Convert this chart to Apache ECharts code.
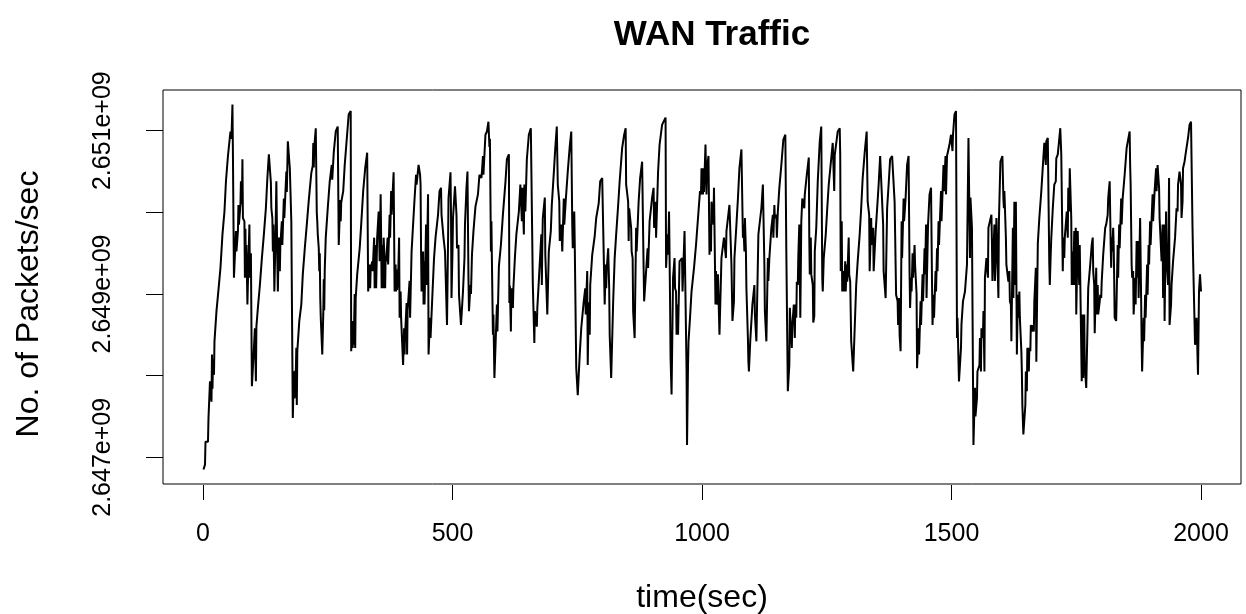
<!DOCTYPE html>
<html>
<head>
<meta charset="utf-8">
<script src="https://cdn.jsdelivr.net/npm/echarts@6/dist/echarts.min.js"></script>
<style>
html,body{margin:0;padding:0;background:#fff;}
#chart{width:1246px;height:614px;}
</style>
</head>
<body>
<div id="chart"></div>
<script>
// time (sec) of each read point
const timeSec = [
1,4,5,10,11,13,14,17,18,19, 20,22,23,26,27,30,31,34,35,38, 39,42,43,45,46,49,50,54,55,57, 59,60,62,64,66,67,70,71,72,75, 76,78,79,80,83,84,85,86,87,89, 91,93,94,96,98,101,104,106,107,110, 114,118,122,126,129,132,
134,136,137,139,140,141,142,143,145,147, 149,150,152,154,155,158,159,162,163,167, 168,170,174,177,180,182,183,184,185,187, 188,189,193,197,200,204,208,212,217,220, 221,222,223,226,228,229,230,232,233,234, 235,236,239,241,242,243,244,246,250,254, 257,258,259,262,266,270,272,275,276,277, 281,284,288,292,296,297,299,300,301,302, 304,305,306,309,314,317,321,325,329,331, 334,335,336,339,340,
343,344,345,347,349,352,354,356,357,358, 360,361,362,364,365,366,367,370,371,374, 375,377,378,382,384,386,387,388,389,391, 393,394,396,397,401,403,404,405,408,409, 410,414,415,418,421,424,427,428,432,435, 436,437,438,441,442,443,444,447,448,451, 452,455,456,460,463,466,471,474,477,478, 481,482,484,485,489,491,492,496,497,498, 500,501,505,508,509,512,513,517,521,524, 525,528,530,532,533,536,537,539,542,546, 551,554,
558,559,561,562,566,569,572,574,575,577, 578,579,581,582,584,589,590,593,597,601, 606,609,613,614,615,617,618,621,622,625, 628,633,636,639,640,643,644,646,649,653, 657,660,661,664,665,669,670,673,678,679, 680,681,685,686,690,693,697,699,703,706, 709,711,714,715,718,720,723,724,727,731, 735,738,740,741,744,745,748,751,755,758, 763,
766,767,770,771,773,775,776,780,785,788, 793,796,800,802,805,807,808,809,812,814, 815,818,822,825,828,832,835,840,844,847, 848,852,853,854,858,859,861,862,865,868, 869,873,876,880,883,884,887,891,892,895, 900,903,904,907,908,912,915,920,923,927, 928,931,932,934,936,937,939,942,945,946, 948,949,951,952,955,960,961,965,969,970,
972,973,975,976,978,979,983,984,987,988, 991,992,995,996,998,999,1002,1003,1004,1007, 1009,1010,1013,1015,1016,1018,1019,1023,1024,1027, 1028,1031,1032,1035,1038,1039,1043,1044,1048,1049, 1052,1055,1059,1061,1064,1065,1069,1072,1075,1079, 1082,1083,1085,1086,1088,1089,1092,1093,1094,1097, 1101,1105,1106,1109,1112,1113,1115,1119,1122,1125, 1126,1129,1132,1133,1135,1139,1142,1143,1145,1146, 1149,1150,1152,1155,1159,1163,1167,1169,1172,1175, 1176,1180,1181,1184,
1186,1187,1189,1190,1192,1193,1195,1197,1199,1201, 1205,1206,1210,1214,1215,1216,1218,1219,1222,1223, 1225,1226,1229,1232,1236,1239,1241,1242,1244,1248, 1251,1254,1258,1259,1262,1265,1266,1269,1272,1276, 1277,1278,1280,1281,1284,1285,1287,1288,1290,1291, 1294,1295,1297,1299,1302,1303,1306,1309,1312,1316, 1319,1322,1326,1330,1332,1335,1336,1339,1340,1343, 1344,1348,1351,1354,1357,1360,1363,1364,1368,1371, 1374,1377,1381,1384,1386,1389,1392,1393,
1395,1396,1398,1400,1401,1404,1405,1408,1411,1414, 1416,1417,1419,1420,1422,1423,1426,1427,1429,1430, 1431,1434,1435,1438,1439,1442,1443,1446,1447,1449, 1450,1453,1456,1459,1461,1462,1464,1465,1468,1469, 1471,1472,1474,1475,1479,1480,1484,1485,1488,1489, 1491,1496,1499,1502,1503,1506,1509,1511,1512,1515, 1519,1520,1523,1527,1531,1534,1537,1538,1541,1544, 1547,1548,1551,1552,1556,1557,1559,1560,1563,1564, 1566,1567,1570,1573,1574,1576,1580,1581,1582,1586, 1587,1589,1590,1594,1595,1598,1602,1604,1605,1606,
1609,1610,1613,1614,1616,1617,1619,1620,1623,1624, 1626,1627,1629,1631,1633,1634,1636,1637,1639,1640, 1641,1642,1644,1648,1649,1651,1652,1655,1656,1658, 1659,1662,1663,1665,1666,1669,1670,1673,1676,1680, 1683,1686,1689,1690,1693,1696,1697,1699,1700,1703, 1706,1709,1710,1713,1718,1720,1723,1724,1726,1727, 1730,1731,1733,1734,1736,1737,1740,1741,1743,1744, 1746,1747,1749,1750,1753,1754,1756,1757,1761,1763, 1764,1766,1767,1770,1773,1774,1777,1778,1780,1781, 1783,1784,1786,1787,1790,1791,1793,1794,1797,1798, 1800,1801,1803,1804,1807,1808,1810,
1813,1814,1817,1819,1820,1821,1822,1824,1825,1826, 1827,1830,1833,1834,1836,1837,1840,1841,1843,1847, 1850,1851,1853,1857,1858,1859,1861,1862,1864,1865, 1868,1869,1871,1872,1874,1875,1878,1880,1881,1882, 1885,1886,1888,1889,1892,1893,1895,1896,1898,1899, 1903,1904,1907,1910,1911,1913,1916,1917,1920,1921, 1923,1924,1926,1927,1930,1931,1933,1934,1936,1937, 1940,1941,1943,1944,1947,1948,1950,1951,1953,1954, 1957,1960,1961,1963,1964,1967,1970,1974,1977,1980, 1983,1984,1987,1988,1990,1991,1994,1996,1998,2000
];
// No. of packets/sec read at those times
const packetsPerSec = [
2646.85e6,2646.91e6,2647.19e6,2647.19e6,2647.48e6,2647.48e6,2647.93e6,2647.68e6,2648.26e6,2647.84e6, 2648.20e6,2648.01e6,2648.42e6,2648.42e6,2648.79e6,2648.79e6,2649.05e6,2649.05e6,2649.32e6,2649.32e6, 2649.73e6,2649.73e6,2650.01e6,2650.01e6,2650.38e6,2650.38e6,2650.69e6,2650.69e6,2650.99e6,2650.90e6, 2651.32e6,2650.70e6,2649.20e6,2649.48e6,2649.77e6,2649.52e6,2649.77e6,2650.09e6,2649.85e6,2650.09e6, 2650.38e6,2650.10e6,2650.65e6,2649.93e6,2649.89e6,2649.20e6,2649.80e6,2649.25e6,2649.60e6,2648.87e6, 2649.40e6,2649.85e6,2649.20e6,2649.50e6,2647.87e6,2648.21e6,2648.58e6,2647.93e6,2648.60e6,2648.83e6, 2649.11e6,2649.44e6,2649.73e6,2650.05e6,2650.42e6,2650.71e6,
2650.71e6,2650.37e6,2650.05e6,2649.93e6,2649.52e6,2649.85e6,2649.50e6,2649.03e6,2649.60e6,2650.38e6, 2649.40e6,2649.03e6,2649.69e6,2649.28e6,2649.60e6,2649.89e6,2649.60e6,2650.17e6,2649.93e6,2650.50e6, 2650.25e6,2650.87e6,2650.54e6,2649.89e6,2647.48e6,2648.05e6,2647.72e6,2648.06e6,2647.73e6,2648.34e6, 2647.64e6,2648.30e6,2648.67e6,2648.87e6,2649.24e6,2649.56e6,2649.85e6,2650.15e6,2650.48e6,2650.57e6, 2650.85e6,2650.55e6,2650.80e6,2651.03e6,2650.00e6,2649.89e6,2649.73e6,2649.56e6,2649.28e6,2649.50e6, 2648.95e6,2648.71e6,2648.26e6,2648.75e6,2649.18e6,2648.80e6,2649.30e6,2649.69e6,2650.05e6,2650.38e6, 2650.38e6,2650.58e6,2650.40e6,2650.73e6,2650.99e6,2651.05e6,2649.60e6,2650.15e6,2649.89e6,2650.12e6, 2650.26e6,2650.58e6,2650.89e6,2651.20e6,2651.24e6,2648.30e6,2648.67e6,2648.34e6,2648.62e6,2648.38e6, 2649.00e6,2648.34e6,2648.95e6,2649.24e6,2649.56e6,2649.85e6,2650.26e6,2650.54e6,2650.73e6,2649.03e6, 2649.36e6,2649.07e6,2649.30e6,2649.40e6,2649.28e6,
2649.69e6,2649.07e6,2649.60e6,2649.07e6,2649.69e6,2650.01e6,2649.40e6,2650.22e6,2649.69e6,2649.07e6, 2649.60e6,2649.07e6,2649.69e6,2649.40e6,2649.07e6,2649.45e6,2649.40e6,2649.69e6,2649.36e6,2649.97e6, 2649.69e6,2650.26e6,2649.97e6,2650.49e6,2649.03e6,2649.36e6,2649.03e6,2649.30e6,2649.05e6,2649.20e6, 2649.69e6,2648.71e6,2649.03e6,2648.71e6,2648.13e6,2648.58e6,2648.26e6,2648.50e6,2648.89e6,2648.26e6, 2648.80e6,2649.16e6,2648.71e6,2649.52e6,2649.85e6,2650.17e6,2650.46e6,2650.34e6,2650.58e6,2650.46e6, 2650.34e6,2649.52e6,2649.03e6,2649.52e6,2648.87e6,2649.40e6,2648.87e6,2649.85e6,2649.11e6,2650.22e6, 2648.26e6,2648.71e6,2648.46e6,2649.03e6,2649.44e6,2649.69e6,2649.97e6,2650.26e6,2650.30e6,2649.97e6, 2649.97e6,2649.69e6,2649.69e6,2649.52e6,2648.62e6,2649.60e6,2650.17e6,2650.49e6,2649.99e6,2648.95e6, 2649.52e6,2649.93e6,2650.32e6,2649.97e6,2649.56e6,2649.60e6,2648.99e6,2648.62e6,2649.03e6,2649.44e6, 2649.85e6,2650.30e6,2650.50e6,2649.20e6,2648.79e6,2649.11e6,2649.00e6,2649.48e6,2649.77e6,2650.07e6, 2650.22e6,2650.46e6,
2650.42e6,2650.50e6,2650.69e6,2650.46e6,2650.95e6,2650.99e6,2651.11e6,2650.80e6,2650.90e6,2649.52e6, 2649.89e6,2649.40e6,2648.50e6,2648.75e6,2647.97e6,2648.87e6,2648.54e6,2649.34e6,2649.60e6,2649.97e6, 2650.36e6,2650.65e6,2650.71e6,2648.89e6,2649.10e6,2648.54e6,2649.07e6,2648.83e6,2649.07e6,2649.44e6, 2649.73e6,2650.01e6,2650.34e6,2649.89e6,2650.30e6,2649.73e6,2650.34e6,2650.01e6,2650.65e6,2650.95e6, 2651.03e6,2651.05e6,2649.11e6,2648.40e6,2648.79e6,2648.60e6,2648.83e6,2649.16e6,2649.73e6,2649.11e6, 2649.60e6,2649.93e6,2650.18e6,2649.48e6,2648.75e6,2649.52e6,2649.77e6,2650.09e6,2650.48e6,2650.79e6, 2651.05e6,2650.34e6,2650.13e6,2649.65e6,2649.85e6,2649.52e6,2650.17e6,2649.85e6,2650.15e6,2650.50e6, 2650.81e6,2650.99e6,2649.85e6,2649.56e6,2650.01e6,2649.60e6,2648.09e6,2647.76e6,2648.26e6,2648.58e6, 2648.91e6,
2649.07e6,2648.75e6,2649.28e6,2648.13e6,2648.90e6,2648.50e6,2649.11e6,2649.48e6,2649.71e6,2649.93e6, 2650.11e6,2650.38e6,2650.42e6,2649.81e6,2648.87e6,2649.36e6,2649.07e6,2649.30e6,2649.56e6,2649.07e6, 2648.50e6,2647.97e6,2648.91e6,2649.44e6,2649.73e6,2650.09e6,2650.38e6,2650.79e6,2650.95e6,2651.03e6, 2650.34e6,2650.13e6,2649.65e6,2650.05e6,2649.81e6,2649.52e6,2649.44e6,2648.79e6,2648.46e6,2649.81e6, 2649.52e6,2650.13e6,2650.42e6,2650.62e6,2649.32e6,2648.91e6,2648.91e6,2649.56e6,2649.32e6,2649.89e6, 2650.18e6,2650.30e6,2649.81e6,2650.13e6,2649.69e6,2650.50e6,2650.83e6,2651.07e6,2651.11e6,2651.16e6, 2649.32e6,2649.73e6,2649.48e6,2650.01e6,2648.91e6,2648.22e6,2647.77e6,2649.20e6,2649.44e6,2649.07e6, 2649.03e6,2648.50e6,2648.87e6,2648.50e6,2649.40e6,2649.44e6,2649.03e6,2649.77e6,2648.09e6,2647.15e6,
2648.13e6,2648.42e6,2648.42e6,2648.71e6,2648.71e6,2649.03e6,2649.03e6,2649.32e6,2649.32e6,2649.60e6, 2649.60e6,2649.93e6,2649.93e6,2650.26e6,2650.22e6,2650.54e6,2650.22e6,2650.54e6,2650.25e6,2650.83e6, 2650.22e6,2650.54e6,2650.69e6,2649.48e6,2649.85e6,2649.52e6,2650.13e6,2649.85e6,2650.30e6,2648.87e6, 2649.28e6,2648.87e6,2649.24e6,2648.50e6,2649.20e6,2649.44e6,2649.44e6,2649.69e6,2649.44e6,2649.77e6, 2649.77e6,2650.09e6,2649.36e6,2648.67e6,2648.91e6,2649.44e6,2649.85e6,2650.17e6,2650.54e6,2650.77e6, 2649.69e6,2649.85e6,2649.52e6,2649.93e6,2649.52e6,2649.07e6,2648.46e6,2648.17e6,2648.05e6,2648.46e6, 2648.87e6,2649.11e6,2648.75e6,2648.42e6,2649.40e6,2649.73e6,2649.73e6,2650.05e6,2650.34e6,2649.36e6, 2648.79e6,2648.42e6,2649.44e6,2649.16e6,2649.44e6,2649.81e6,2649.97e6,2649.69e6,2650.09e6,2649.93e6, 2649.97e6,2649.69e6,2650.01e6,2650.30e6,2650.58e6,2650.89e6,2650.95e6,2649.52e6,2647.81e6,2648.13e6, 2648.83e6,2648.34e6,2648.62e6,2648.87e6,
2648.46e6,2648.87e6,2648.71e6,2649.15e6,2649.11e6,2649.46e6,2649.85e6,2648.71e6,2649.89e6,2650.17e6, 2650.05e6,2650.22e6,2650.46e6,2650.67e6,2649.69e6,2649.24e6,2649.69e6,2649.24e6,2649.11e6,2648.65e6, 2648.73e6,2649.52e6,2649.81e6,2650.38e6,2650.87e6,2651.05e6,2649.20e6,2649.03e6,2649.44e6,2649.73e6, 2650.05e6,2650.34e6,2650.34e6,2650.66e6,2650.85e6,2650.26e6,2650.70e6,2650.69e6,2650.99e6,2651.03e6, 2650.70e6,2649.28e6,2649.89e6,2649.03e6,2649.28e6,2649.03e6,2649.40e6,2649.03e6,2649.36e6,2649.15e6, 2649.69e6,2649.24e6,2649.15e6,2648.42e6,2648.42e6,2648.05e6,2648.05e6,2649.11e6,2649.40e6,2649.73e6, 2650.05e6,2650.42e6,2650.73e6,2650.99e6,2650.13e6,2649.97e6,2649.28e6,2649.93e6,2649.60e6,2649.81e6, 2649.28e6,2649.77e6,2650.05e6,2650.34e6,2650.69e6,2650.71e6,2649.85e6,2649.28e6,2648.95e6,2650.05e6, 2650.34e6,2650.65e6,2650.69e6,2650.71e6,2650.13e6,2648.99e6,2648.91e6,2648.62e6,
2648.95e6,2648.50e6,2648.30e6,2649.89e6,2649.44e6,2650.17e6,2649.89e6,2650.17e6,2650.58e6,2650.69e6, 2649.24e6,2648.83e6,2649.20e6,2649.03e6,2649.50e6,2649.20e6,2649.60e6,2649.36e6,2649.36e6,2649.00e6, 2648.09e6,2648.58e6,2648.26e6,2648.91e6,2648.62e6,2649.24e6,2648.91e6,2649.56e6,2649.24e6,2649.85e6, 2648.95e6,2649.85e6,2650.22e6,2650.30e6,2649.11e6,2648.62e6,2648.99e6,2648.71e6,2649.28e6,2649.03e6, 2649.56e6,2649.28e6,2649.89e6,2649.60e6,2650.26e6,2649.89e6,2650.58e6,2650.26e6,2650.69e6,2650.22e6, 2650.69e6,2650.83e6,2650.95e6,2650.75e6,2650.95e6,2651.20e6,2651.24e6,2648.46e6,2648.71e6,2647.93e6, 2648.34e6,2648.63e6,2648.91e6,2649.03e6,2649.36e6,2650.91e6,2649.44e6,2650.18e6,2649.81e6,2647.15e6, 2647.85e6,2647.50e6,2647.72e6,2648.05e6,2648.13e6,2648.46e6,2648.05e6,2648.58e6,2648.46e6,2648.79e6, 2648.05e6,2649.20e6,2649.44e6,2649.20e6,2649.81e6,2649.81e6,2649.97e6,2649.65e6,2649.16e6,2649.85e6, 2649.16e6,2649.55e6,2649.93e6,2648.95e6,2649.89e6,2650.62e6,2650.69e6,2650.17e6,2650.05e6,2650.26e6,
2649.69e6,2649.36e6,2649.36e6,2649.15e6,2649.28e6,2648.91e6,2648.87e6,2648.42e6,2649.81e6,2648.95e6, 2650.13e6,2649.11e6,2650.13e6,2648.26e6,2648.99e6,2648.71e6,2649.03e6,2648.71e6,2648.71e6,2648.30e6, 2648.05e6,2647.64e6,2647.28e6,2647.64e6,2648.05e6,2647.81e6,2648.34e6,2648.05e6,2648.34e6,2648.30e6, 2648.62e6,2648.54e6,2648.62e6,2648.54e6,2648.91e6,2649.32e6,2648.17e6,2649.62e6,2649.93e6,2650.26e6, 2650.56e6,2650.85e6,2650.58e6,2650.87e6,2650.91e6,2649.36e6,2649.11e6,2649.52e6,2649.69e6,2650.05e6, 2650.34e6,2650.38e6,2650.66e6,2650.71e6,2651.03e6,2650.71e6,2649.28e6,2649.69e6,2649.44e6,2649.69e6, 2649.69e6,2650.01e6,2649.69e6,2650.30e6,2650.01e6,2650.54e6,2649.93e6,2649.11e6,2649.52e6,2649.11e6, 2649.77e6,2649.11e6,2649.81e6,2648.75e6,2649.77e6,2649.44e6,2649.11e6,2649.60e6,2647.93e6,2648.75e6, 2647.97e6,2648.75e6,2648.13e6,2647.85e6,2648.75e6,2649.07e6,2649.07e6,2649.36e6,2649.36e6,2649.60e6, 2649.69e6,2649.28e6,2649.11e6,2648.52e6,2649.32e6,2648.75e6,2649.11e6,2648.75e6,2648.91e6,2648.99e6, 2648.95e6,2649.15e6,2649.15e6,2649.48e6,2649.48e6,2649.81e6,2649.85e6,
2649.97e6,2650.17e6,2650.38e6,2649.60e6,2649.32e6,2649.69e6,2649.52e6,2649.81e6,2649.60e6,2649.20e6, 2648.71e6,2648.67e6,2649.60e6,2649.20e6,2649.85e6,2649.56e6,2650.17e6,2649.85e6,2650.17e6,2650.46e6, 2650.46e6,2650.79e6,2650.81e6,2650.99e6,2650.58e6,2650.34e6,2649.36e6,2649.20e6,2649.28e6,2648.75e6, 2649.20e6,2648.87e6,2649.65e6,2649.20e6,2649.65e6,2648.95e6,2649.93e6,2648.95e6,2648.42e6,2648.05e6, 2648.71e6,2648.42e6,2648.99e6,2648.71e6,2649.36e6,2648.99e6,2649.60e6,2649.36e6,2649.89e6,2649.60e6, 2650.22e6,2649.89e6,2650.26e6,2650.54e6,2650.26e6,2650.58e6,2650.30e6,2649.93e6,2649.93e6,2649.40e6, 2649.85e6,2648.95e6,2649.85e6,2648.67e6,2650.01e6,2649.44e6,2649.44e6,2649.11e6,2650.42e6,2648.62e6, 2648.87e6,2649.11e6,2649.11e6,2649.40e6,2649.40e6,2649.69e6,2649.69e6,2650.05e6,2650.01e6,2650.34e6, 2650.50e6,2650.34e6,2649.93e6,2650.13e6,2650.54e6,2650.62e6,2650.75e6,2650.91e6,2651.07e6,2651.11e6, 2649.81e6,2649.48e6,2648.67e6,2648.38e6,2648.42e6,2648.71e6,2648.01e6,2649.03e6,2649.24e6,2649.03e6
];
const xTickValues = [0, 500, 1000, 1500, 2000];
const yTickValues = [2.647e9, 2.648e9, 2.649e9, 2.650e9, 2.651e9];
const yLabelValues = [2.647e9, 2.649e9, 2.651e9];

if (timeSec.length !== packetsPerSec.length) {
  throw new Error('length mismatch ' + timeSec.length + ' vs ' + packetsPerSec.length);
}
const seriesData = timeSec.map((t, i) => [t, packetsPerSec[i]]);

const FONT = '"Liberation Sans", Arial, sans-serif';
const Y_MIN = 2646673000, Y_MAX = 2651498000;
const X_MIN = xTickValues[0], X_MAX = xTickValues[xTickValues.length - 1];
const chart = echarts.init(document.getElementById('chart'), null, {renderer: 'canvas'});
chart.setOption({
  animation: false,
  backgroundColor: '#ffffff',
  title: {
    text: 'WAN Traffic',
    left: 707,
    top: 13,
    textAlign: 'center',
    textStyle: {fontFamily: FONT, fontWeight: 'bold', fontSize: 35, color: '#000'}
  },
  grid: [
    // data area: x from 0 to 2000
    {left: 203, top: 90, width: 998, height: 394, containLabel: false,
     outerBoundsMode: 'none', show: false},
    // plot frame: R's 4% padded box
    {left: 163, top: 90, width: 1078, height: 394, containLabel: false,
     outerBoundsMode: 'none', show: true, borderColor: '#000', borderWidth: 1,
     backgroundColor: 'transparent'},
    // tick strip under the frame (x tick marks drawn as split lines of the x scale)
    {left: 203, top: 485, width: 998, height: 15, containLabel: false,
     outerBoundsMode: 'none', show: false}
  ],
  xAxis: [{
    gridIndex: 0,
    type: 'value',
    position: 'bottom',
    min: X_MIN, max: X_MAX, interval: 500,
    axisLine: {show: false, onZero: false},
    splitLine: {show: false},
    axisTick: {show: false},
    axisLabel: {show: true, fontFamily: FONT, fontSize: 25, color: '#000', margin: 38,
      formatter: v => String(v)},
    name: 'time(sec)',
    nameLocation: 'middle',
    nameGap: 98,
    nameTextStyle: {fontFamily: FONT, fontSize: 32, color: '#000'}
  }, {
    gridIndex: 1,
    type: 'value',
    min: -80, max: 2080,
    show: false
  }, {
    gridIndex: 2,
    type: 'value',
    min: X_MIN, max: X_MAX, interval: 500,
    axisLine: {show: false, onZero: false},
    axisTick: {show: false},
    axisLabel: {show: false},
    splitLine: {show: true, showMinLine: true, showMaxLine: true,
      lineStyle: {color: '#000', width: 1, type: 'solid'}}
  }],
  yAxis: [{
    gridIndex: 0,
    type: 'value',
    min: Y_MIN, max: Y_MAX,
    show: false
  }, {
    gridIndex: 1,
    type: 'value',
    position: 'left',
    min: Y_MIN, max: Y_MAX,
    axisLine: {show: false, onZero: false},
    splitLine: {show: false},
    axisTick: {show: true, customValues: yTickValues, length: 17, inside: false,
      lineStyle: {color: '#000', width: 1}},
    axisLabel: {show: true, customValues: yLabelValues, rotate: 90, fontFamily: FONT,
      fontSize: 25, color: '#000', margin: 47,
      formatter: v => (v / 1e9).toFixed(3) + 'e+09'},
    name: 'No. of Packets/sec',
    nameLocation: 'middle',
    nameRotate: 90,
    nameGap: 118,
    nameTextStyle: {fontFamily: FONT, fontSize: 32, color: '#000', padding: [0, 34, 0, 0]}
  }, {
    gridIndex: 2,
    type: 'value',
    min: 0, max: 1,
    show: false
  }],
  series: [{
    type: 'line',
    xAxisIndex: 0,
    yAxisIndex: 0,
    data: seriesData,
    showSymbol: false,
    symbol: 'none',
    sampling: false,
    clip: false,
    lineStyle: {color: '#000', width: 2},
    emphasis: {disabled: true}
  }]
});
</script>
</body>
</html>
